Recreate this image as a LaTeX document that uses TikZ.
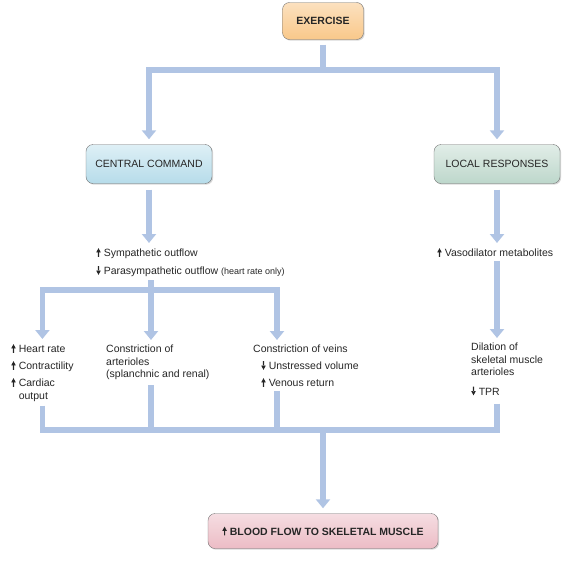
\documentclass[tikz,border=0pt]{standalone}
\usepackage{fontspec}
\setmainfont{Liberation Sans}
\usepackage{xcolor}
\definecolor{cvorange}{HTML}{F9C88A}
\definecolor{cvblue}{HTML}{B6DCEA}
\definecolor{cvgreen}{HTML}{BDD7CB}
\definecolor{cvpink}{HTML}{ECBCC5}
\definecolor{cvedge}{HTML}{707070}
\definecolor{cvline}{HTML}{B0C4E4}
\definecolor{cvink}{HTML}{262626}
\usepackage{tikz}
\usetikzlibrary{arrows.meta,calc,shadows}
\newcommand{\cvup}{\tikz[baseline=0pt,x=1pt,y=1pt,sharp corners]\fill[cvink] (-0.55,0) rectangle (0.55,5) (-2.3,4.4) -- (0,8.6) -- (2.3,4.4) -- cycle;\hspace{3pt}}
\newcommand{\cvdn}{\tikz[baseline=0pt,x=1pt,y=1pt,sharp corners]\fill[cvink] (-0.55,3.6) rectangle (0.55,8.6) (-2.3,4.2) -- (0,0) -- (2.3,4.2) -- cycle;\hspace{3pt}}
\tikzset{
  cvbox/.style={draw=cvedge,rounded corners=7pt,inner sep=0pt,align=center,font=\fontsize{10.5}{12.5}\selectfont,text=cvink,minimum width=126pt,minimum height=39pt,drop shadow={shadow xshift=1.2pt,shadow yshift=-1.2pt,opacity=.3}},
  cvtext/.style={anchor=north west,inner sep=0pt,align=left,font=\fontsize{10.5}{12.5}\selectfont,text=cvink},
  cvpipe/.style={draw=cvline,line width=5.5pt,line join=miter},
  cvflow/.style={cvpipe,-{Triangle[width=14pt,length=9pt]},shorten >=5pt},
}

\begin{document}
\begin{tikzpicture}[x=1pt,y=-1pt]
\useasboundingbox (0,0) rectangle (572,562);
\node[cvbox,top color=cvorange!55!white,bottom color=cvorange,minimum width=81pt,minimum height=37pt,font=\fontsize{10.5}{12.5}\selectfont\bfseries] (ex) at (323,21) {EXERCISE};
\node[cvbox,top color=cvblue!45!white,bottom color=cvblue] (cc) at (149,164) {CENTRAL COMMAND};
\node[cvbox,top color=cvgreen!45!white,bottom color=cvgreen] (lr) at (497,164) {LOCAL RESPONSES};
\node[cvbox,top color=cvpink!50!white,bottom color=cvpink,minimum width=230pt,minimum height=35pt,font=\fontsize{10.5}{12.5}\selectfont\bfseries] (blood) at (323,531) {\cvup BLOOD FLOW TO SKELETAL MUSCLE};
\node[cvtext] (sym) at (96,248) {\cvup Sympathetic outflow\\[5.5pt]\cvdn Parasympathetic outflow {\fontsize{9}{11}\selectfont(heart rate only)}};
\node[cvtext] (hr) at (11,344) {\cvup Heart rate\\[4.5pt]\cvup Contractility\\[4.5pt]\cvup Cardiac\\\hphantom{\cvup}output};
\node[cvtext] (art) at (106,345) {Constriction of\\arterioles\\(splanchnic and renal)};
\node[cvtext] (vn) at (253,345) {Constriction of veins\\[4.5pt]\hspace*{8pt}\cvdn Unstressed volume\\[4.5pt]\hspace*{8pt}\cvup Venous return};
\node[cvtext] (vaso) at (437,248) {\cvup Vasodilator metabolites};
\node[cvtext] (dil) at (471,343) {Dilation of\\skeletal muscle\\arterioles\\[7pt]\cvdn TPR};
\coordinate (jex) at (323,70);
\coordinate (jsym) at (151,290);
\coordinate (jend) at (323,430);
\draw[cvflow,shorten <=5pt] (ex) -- (jex) -| (cc);
\draw[cvflow] (jex) -| (lr);
\draw[cvflow,shorten <=6pt] (cc) -- (cc |- sym.north);
\draw[cvflow,shorten <=6pt] (lr) -- (lr |- vaso.north);
\draw[cvflow,shorten <=3pt] (sym.south -| jsym) -- (jsym) -| (hr);
\draw[cvflow] (jsym) -- (art.north -| jsym);
\draw[cvflow] (jsym) -| ($(vn.north west)+(24,0)$);
\draw[cvflow,shorten <=4pt] (vaso.south -| lr) -- (dil.north -| lr);
\draw[cvpipe,shorten <=4pt] (hr.south) |- (jend);
\draw[cvpipe,shorten <=5pt] (art.south -| jsym) |- (jend);
\draw[cvpipe,shorten <=4pt] ($(vn.south west)+(24,0)$) |- (jend);
\draw[cvpipe,shorten <=8pt] (dil.south -| lr) |- (jend);
\draw[cvflow] (jend) -- (blood);
\end{tikzpicture}
\end{document}
